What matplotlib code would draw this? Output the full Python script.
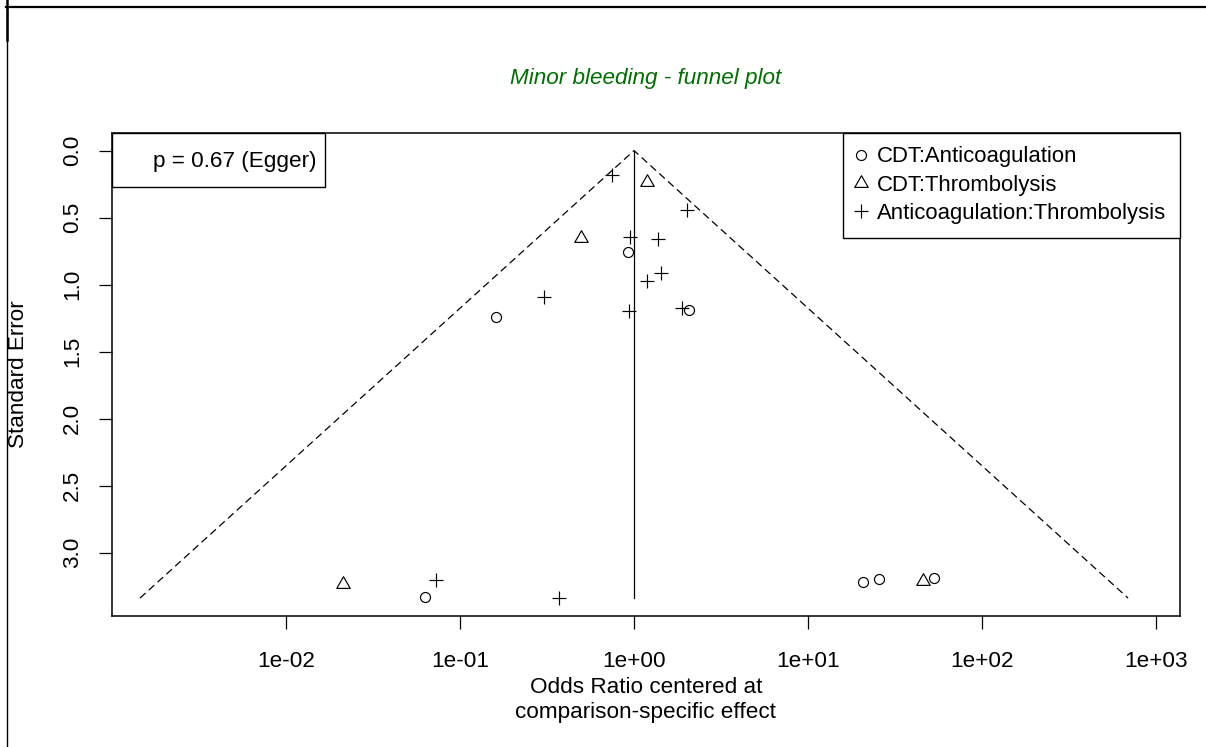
import numpy as np
import matplotlib
matplotlib.use("Agg")
import matplotlib.pyplot as plt
from matplotlib.lines import Line2D
from matplotlib.patches import Rectangle
from matplotlib.path import Path

# ---- data: odds ratios (centered at comparison-specific effect) and standard errors
ca_or = [0.92, 2.07, 0.161, 0.0628, 20.7, 25.5, 53.1]
ca_se = [0.759, 1.187, 1.244, 3.331, 3.22, 3.195, 3.185]

ct_or = [1.18, 0.494, 0.0213, 46.1]
ct_se = [0.231, 0.650, 3.234, 3.209]

at_or = [0.744, 2.03, 0.948, 1.38, 1.42, 1.18, 0.304, 1.90, 0.936, 0.0724, 0.371]
at_se = [0.185, 0.44, 0.643, 0.662, 0.915, 0.970, 1.093, 1.174, 1.194, 3.203, 3.338]

series_labels = ["CDT:Anticoagulation", "CDT:Thrombolysis", "Anticoagulation:Thrombolysis"]
x_ticks = [1e-2, 1e-1, 1e0, 1e1, 1e2, 1e3]
x_tick_labels = ["1e-02", "1e-01", "1e+00", "1e+01", "1e+02", "1e+03"]
y_ticks = [0.0, 0.5, 1.0, 1.5, 2.0, 2.5, 3.0]
egger_text = "p = 0.67 (Egger)"
title_text = "Minor bleeding - funnel plot"

plt.rcParams["font.family"] = ["Liberation Sans", "DejaVu Sans"]
FS = 16.2

W, H = 1206, 747
fig = plt.figure(figsize=(W / 100, H / 100), dpi=100)
fig.patch.set_facecolor("white")


def fx(x):
    return x / W


def fy(y):
    return 1 - y / H


ax_l, ax_r, ax_t, ax_b = 111.7, 1180.0, 132.7, 616.0
ax = fig.add_axes([fx(ax_l), fy(ax_b), fx(ax_r) - fx(ax_l), fy(ax_t) - fy(ax_b)])

# triangle marker with its centroid on the data point
tri = Path([(0, 1), (-0.866, -0.5), (0.866, -0.5), (0, 1)],
           [Path.MOVETO, Path.LINETO, Path.LINETO, Path.CLOSEPOLY])

mlw = 0.85
styles = [
    dict(marker="o", markersize=7.2),
    dict(marker=tri, markersize=11.2),
    dict(marker="+", markersize=9.6),
]
data = [(ca_or, ca_se), (ct_or, ct_se), (at_or, at_se)]

for (xs, ys), st in zip(data, styles):
    ax.plot(xs, ys, linestyle="none", color="black", markerfacecolor="none",
            markeredgewidth=mlw, zorder=3, **st)

# pseudo 95% confidence funnel and the vertical line at the centre
max_se = max(max(ca_se), max(ct_se), max(at_se))
half = 1.96 * max_se
ax.plot([np.exp(-half), 1.0, np.exp(half)], [max_se, 0.0, max_se],
        color="black", linewidth=0.9, linestyle=(0, (6, 3.5)), zorder=2)
ax.plot([1.0, 1.0], [0.0, max_se], color="black", linewidth=0.9, zorder=2)

ax.set_xscale("log")
ax.set_xlim(10 ** -3.004, 10 ** 3.140)
ax.set_ylim(max_se * 1.04, -0.04 * max_se)

ax.set_xticks(x_ticks)
ax.set_xticklabels(x_tick_labels)
ax.xaxis.set_minor_locator(matplotlib.ticker.NullLocator())
ax.set_yticks(y_ticks)
ax.set_yticklabels([f"{v:.1f}" for v in y_ticks], rotation=90, va="center")

ax.tick_params(axis="both", which="major", direction="out", length=9.5, width=0.9,
               labelsize=FS, color="black")
ax.tick_params(axis="x", pad=16)
ax.tick_params(axis="y", pad=11)
for s in ax.spines.values():
    s.set_linewidth(1.1)
    s.set_color("black")

ax.set_xlabel("Odds Ratio centered at\ncomparison-specific effect", fontsize=FS,
              linespacing=1.25, labelpad=3.5)

fig.text(fx(18.3), fy(374.4), "Standard Error", rotation=90, ha="center",
         va="center", fontsize=FS)

fig.text(fx((ax_l + ax_r) / 2), fy(78.5), title_text, ha="center", va="center",
         fontsize=FS, style="italic", color="#007000")

# legend of comparisons
handles = [Line2D([], [], linestyle="none", color="black", markerfacecolor="none",
                  markeredgewidth=mlw, **st) for st in styles]
leg = ax.legend(handles, series_labels, loc="upper right", bbox_to_anchor=(1, 1),
                borderaxespad=0, frameon=True, fancybox=False, edgecolor="black",
                framealpha=1, fontsize=15.9, handlelength=0.45, handletextpad=0.5,
                borderpad=0.62, labelspacing=0.33)
leg.get_frame().set_linewidth(1.0)

# Egger test box
fig.add_artist(Rectangle((fx(ax_l), fy(187.3)), fx(325) - fx(ax_l), fy(ax_t) - fy(187.3),
                         transform=fig.transFigure, fill=True, facecolor="white",
                         edgecolor="black", linewidth=1.0, zorder=5))
fig.text(fx(234.5), fy(162), egger_text, ha="center", va="center", fontsize=FS,
         zorder=6)

# page border lines
fig.add_artist(Line2D([fx(6), 1], [fy(6.7), fy(6.7)], transform=fig.transFigure,
                      color="black", linewidth=1.6))
fig.add_artist(Line2D([fx(7.3), fx(7.3)], [fy(6.7), 0], transform=fig.transFigure,
                      color="black", linewidth=1.0))
fig.add_artist(Line2D([fx(7.3), fx(7.3)], [1, fy(40)], transform=fig.transFigure,
                      color="black", linewidth=1.8))

fig.savefig("out.png", dpi=100, facecolor="white")
